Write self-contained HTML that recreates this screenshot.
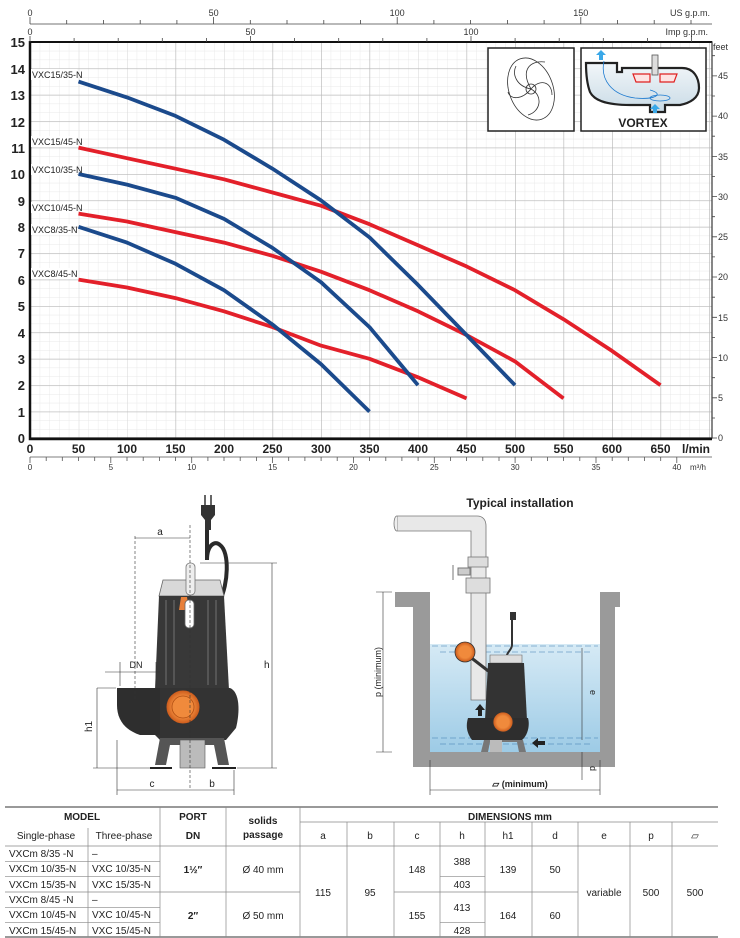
<!DOCTYPE html>
<html><head><meta charset="utf-8"><style>
html,body{margin:0;padding:0;background:#fff;}
svg{display:block;font-family:"Liberation Sans Narrow","Liberation Sans",sans-serif;}
</style></head><body>
<svg width="740" height="938" viewBox="0 0 740 938" xmlns="http://www.w3.org/2000/svg">
<defs>
<pattern id="minor" patternUnits="userSpaceOnUse" x="30" y="42" width="9.7" height="8.8">
<path d="M0 0V8.8M0 0H9.7" stroke="#e2e2e2" stroke-width="0.7" fill="none"/></pattern>
<pattern id="major" patternUnits="userSpaceOnUse" x="30" y="42" width="48.5" height="26.4">
<path d="M0 0V26.4M0 0H48.5" stroke="#b8b8b8" stroke-width="1.3" fill="none"/></pattern>
<linearGradient id="water" x1="0" y1="0" x2="0" y2="1"><stop offset="0" stop-color="#d6eaf5"/><stop offset="1" stop-color="#9dcbe6"/></linearGradient>
<linearGradient id="vort" x1="0" y1="0" x2="0" y2="1"><stop offset="0" stop-color="#f2f6f9"/><stop offset="1" stop-color="#c9dbe6"/></linearGradient>
<radialGradient id="orng"><stop offset="0.6" stop-color="#f08a3c"/><stop offset="1" stop-color="#c9581a"/></radialGradient>
</defs>

<rect x="30" y="42" width="682" height="396" fill="#fff"/>
<rect x="30" y="42" width="682" height="396" fill="url(#minor)"/>
<rect x="30" y="42" width="682" height="396" fill="url(#major)"/>
<path d="M30 42H712V438H30Z" fill="none" stroke="#222" stroke-width="1.2"/>
<path d="M30 41V439H712" fill="none" stroke="#111" stroke-width="2.5"/>
<path d="M30 42H712" stroke="#111" stroke-width="2"/>

<g stroke="#444" stroke-width="0.8">
<path d="M30 24H712"/>
<path d="M30 17V24M66.7 20V24M103.4 20V24M140.2 20V24M176.9 20V24M213.6 17V24M250.3 20V24M287 20V24M323.8 20V24M360.5 20V24M397.2 17V24M433.9 20V24M470.6 20V24M507.4 20V24M544.1 20V24M580.8 17V24M617.5 20V24M654.2 20V24M691 20V24"/>
<path d="M30 36V42M74.1 38V42M118.2 38V42M162.3 38V42M206.4 38V42M250.5 36V42M294.6 38V42M338.7 38V42M382.8 38V42M426.9 38V42M471 36V42M515.1 38V42M559.2 38V42M603.3 38V42M647.4 38V42M691.5 36V42"/>
</g>
<g font-size="9" fill="#333" text-anchor="middle">
<text x="30" y="16">0</text><text x="213.6" y="16">50</text><text x="397.2" y="16">100</text><text x="580.8" y="16">150</text>
<text x="30" y="35">0</text><text x="250.5" y="35">50</text><text x="471" y="35">100</text>
</g>
<text x="710" y="16" font-size="9" fill="#333" text-anchor="end">US g.p.m.</text>
<text x="708" y="35" font-size="9" fill="#333" text-anchor="end">Imp g.p.m.</text>

<g font-size="13" font-weight="bold" fill="#222" text-anchor="end">
<text x="25" y="47">15</text><text x="25" y="74">14</text><text x="25" y="100">13</text><text x="25" y="127">12</text><text x="25" y="153">11</text><text x="25" y="179">10</text><text x="25" y="206">9</text><text x="25" y="232">8</text><text x="25" y="258">7</text><text x="25" y="285">6</text><text x="25" y="311">5</text><text x="25" y="338">4</text><text x="25" y="364">3</text><text x="25" y="390">2</text><text x="25" y="417">1</text><text x="25" y="443">0</text>
</g>

<g stroke="#444" stroke-width="0.8">
<path d="M712 42V438M712 438H717M712 397.8H717M712 357.5H717M712 317.3H717M712 277H717M712 236.8H717M712 196.6H717M712 156.4H717M712 116.1H717M712 75.9H717M712 418H715M712 377.7H715M712 337.4H715M712 297.2H715M712 256.9H715M712 216.7H715M712 176.5H715M712 136.2H715M712 96H715M712 55.7H715"/>
</g>
<g font-size="9" fill="#333">
<text x="713" y="50">feet</text>
<text x="718" y="441">0</text><text x="718" y="401">5</text><text x="718" y="361">10</text><text x="718" y="321">15</text><text x="718" y="280">20</text><text x="718" y="240">25</text><text x="718" y="200">30</text><text x="718" y="160">35</text><text x="718" y="119">40</text><text x="718" y="79">45</text>
</g>

<g font-size="12" font-weight="bold" fill="#222" text-anchor="middle">
<text x="30" y="453">0</text><text x="78.5" y="453">50</text><text x="127" y="453">100</text><text x="175.5" y="453">150</text><text x="224" y="453">200</text><text x="272.5" y="453">250</text><text x="321" y="453">300</text><text x="369.5" y="453">350</text><text x="418" y="453">400</text><text x="466.5" y="453">450</text><text x="515" y="453">500</text><text x="563.5" y="453">550</text><text x="612" y="453">600</text><text x="660.5" y="453">650</text><text x="696" y="453">l/min</text>
</g>
<g stroke="#555" stroke-width="0.8">
<path d="M30 457H712"/>
<path d="M30 457V463M46.2 457V461M62.3 457V461M78.5 457V461M94.7 457V461M110.8 457V463M127 457V461M143.2 457V461M159.4 457V461M175.5 457V461M191.7 457V463M207.9 457V461M224 457V461M240.2 457V461M256.4 457V461M272.6 457V463M288.7 457V461M304.9 457V461M321.1 457V461M337.2 457V461M353.4 457V463M369.6 457V461M385.8 457V461M401.9 457V461M418.1 457V461M434.3 457V463M450.4 457V461M466.6 457V461M482.8 457V461M499 457V461M515.1 457V463M531.3 457V461M547.5 457V461M563.6 457V461M579.8 457V461M596 457V463M612.2 457V461M628.3 457V461M644.5 457V461M660.7 457V461M676.8 457V463"/>
</g>
<g font-size="8" fill="#333" text-anchor="middle">
<text x="30" y="470">0</text><text x="110.8" y="470">5</text><text x="191.7" y="470">10</text><text x="272.6" y="470">15</text><text x="353.4" y="470">20</text><text x="434.3" y="470">25</text><text x="515.1" y="470">30</text><text x="596" y="470">35</text><text x="676.8" y="470">40</text><text x="698" y="470">m³/h</text>
</g>

<g fill="none" stroke-width="3.8" stroke-linejoin="round" stroke-linecap="butt">
<polyline stroke="#e3202a" points="78.5,147.6 127,158.2 175.5,168.7 224,179.3 272.5,192.5 321,205.7 369.5,224.2 418,245.3 466.5,266.4 515,290.2 563.5,319.2 612,350.9 660.5,385.2"/>
<polyline stroke="#e3202a" points="78.5,213.6 127,221.5 175.5,232.1 224,242.6 272.5,255.8 321,271.7 369.5,290.2 418,311.3 466.5,335 515,361.4 563.5,398.4"/>
<polyline stroke="#e3202a" points="78.5,279.6 127,287.5 175.5,298.1 224,311.3 272.5,327.1 321,345.6 369.5,358.8 418,377.3 466.5,398.4"/>
<polyline stroke="#1b4a8c" points="78.5,81.6 127,97.4 175.5,115.9 224,139.7 272.5,168.7 321,200.4 369.5,237.4 418,284.9 466.5,335 515,385.2"/>
<polyline stroke="#1b4a8c" points="78.5,174 127,184.6 175.5,197.8 224,218.9 272.5,247.9 321,282.2 369.5,327.1 418,385.2"/>
<polyline stroke="#1b4a8c" points="78.5,226.8 127,242.6 175.5,263.8 224,290.2 272.5,324.5 321,364.1 369.5,411.6"/>
</g>
<g font-size="9" fill="#222">
<rect x="31" y="69" width="46" height="11" fill="#fff"/><text x="32" y="78">VXC15/35-N</text>
<rect x="31" y="136" width="46" height="11" fill="#fff"/><text x="32" y="145">VXC15/45-N</text>
<rect x="31" y="164" width="46" height="11" fill="#fff"/><text x="32" y="173">VXC10/35-N</text>
<rect x="31" y="202" width="46" height="11" fill="#fff"/><text x="32" y="211">VXC10/45-N</text>
<rect x="31" y="224" width="40" height="11" fill="#fff"/><text x="32" y="233">VXC8/35-N</text>
<rect x="31" y="268" width="40" height="11" fill="#fff"/><text x="32" y="277">VXC8/45-N</text>
</g>

<rect x="488" y="48" width="86" height="83" fill="#fff" stroke="#222" stroke-width="1.5"/>
<g fill="none" stroke="#333" stroke-width="0.8">
<ellipse cx="531" cy="89" rx="22" ry="32" transform="rotate(-20 531 89)"/>
<path d="M531 89C520 70 530 60 545 62M531 89C540 78 552 82 552 95M531 89C544 96 540 112 528 115M531 89C522 100 510 100 508 92M531 89C516 86 512 74 516 66"/>
<circle cx="531" cy="89" r="5"/>
</g>
<rect x="581" y="48" width="125" height="83" fill="#fff" stroke="#222" stroke-width="1.5"/>
<path d="M586 63H617V72H622V68H682C694 68 699 78 699 88C699 98 690 103 680 105H665V112H650V105H630C605 105 594 100 590 92C587 84 586 75 586 63Z" fill="url(#vort)" stroke="#222" stroke-width="2.2"/>
<rect x="652" y="55" width="6" height="20" fill="#ddd" stroke="#555" stroke-width="0.8"/>
<path d="M633 74H650V82H636ZM660 74H677L674 82H660Z" fill="#fde3e3" stroke="#e02020" stroke-width="1.2"/>
<path d="M604 61C600 80 612 95 635 98C655 100 665 94 650 90" fill="none" stroke="#1e7bd0" stroke-width="0.8"/>
<ellipse cx="660" cy="98" rx="10" ry="3" fill="none" stroke="#1e7bd0" stroke-width="0.8"/>
<path d="M601 50L606 55H603V60H599V55H596Z" fill="#3aa8e8"/>
<path d="M655 104L660 109H657V113H653V109H650Z" fill="#3aa8e8"/>
<text x="643" y="127" font-size="12" font-weight="bold" fill="#222" text-anchor="middle" font-family="Liberation Sans,sans-serif">VORTEX</text>

<!-- pump drawing -->
<g>
<path d="M205 495V505M211 495V505" stroke="#333" stroke-width="1.5"/>
<path d="M201 505H215V515L211 520V530H205V520L201 515Z" fill="#333"/>
<path d="M207 530V560C207 545 215 540 220 545C230 552 228 585 220 600C215 610 200 612 190 618" fill="none" stroke="#2a2a2a" stroke-width="4"/>
<path d="M163 580H220L224 596H159Z" fill="#d8d8d8" stroke="#666" stroke-width="0.8"/>
<rect x="186" y="563" width="9" height="32" rx="4" fill="#eee" stroke="#777" stroke-width="0.8"/>
<path d="M159 596H224L229 690H155Z" fill="#383838"/>
<path d="M166 600V685M174 600V685M208 600V685M216 600V685" stroke="#555" stroke-width="2"/>
<path d="M155 688H230C240 692 240 712 236 728L226 740H160L150 730Z" fill="#333"/>
<path d="M117 688H160V735H140C125 730 117 720 117 705Z" fill="#2e2e2e"/>
<circle cx="183" cy="707" r="17" fill="url(#orng)" stroke="#333" stroke-width="1"/>
<circle cx="183" cy="707" r="11" fill="none" stroke="#b35014" stroke-width="0.8"/>
<path d="M181 597L187 597L189 610L179 610Z" fill="#e8803a"/>
<rect x="185" y="600" width="9" height="28" rx="4" fill="#fff" stroke="#666" stroke-width="0.8"/>
<path d="M160 738L155 765H166L170 745H180V768H205V745H214L218 765H229L224 738Z" fill="#555"/>
<rect x="180" y="740" width="25" height="28" fill="#bbb" stroke="#555" stroke-width="0.6"/>
<path d="M150 768H172M212 768H236" stroke="#222" stroke-width="2"/>
</g>
<g stroke="#333" stroke-width="0.6" fill="none">
<path d="M135 536V700M190 525V790" stroke-dasharray="3 2"/>
<path d="M135 538H190M200 563H277M237 768H277M272 563V768M97 688H116M93 768H150M97 688V768M117 740V795M234 770V795M117 790H234M105 672H160M120 662V686M156 662V686"/>
</g>
<g font-size="10" fill="#222" font-family="Liberation Sans,sans-serif">
<text x="160" y="535" text-anchor="middle">a</text>
<text x="264" y="668">h</text>
<text x="92" y="732" transform="rotate(-90 92 732)">h1</text>
<text x="152" y="787" text-anchor="middle">c</text>
<text x="212" y="787" text-anchor="middle">b</text>
<text x="136" y="668" text-anchor="middle" font-size="9">DN</text>
</g>

<!-- installation -->
<text x="520" y="507" font-size="12" font-weight="bold" fill="#222" text-anchor="middle" font-family="Liberation Sans,sans-serif">Typical installation</text>
<rect x="430" y="644" width="170" height="108" fill="url(#water)"/>
<g stroke="#3a7ab0" stroke-width="0.6" stroke-dasharray="6 3" fill="none">
<path d="M432 646H598M440 652H590M432 738H598M440 744H590"/>
</g>
<path d="M395 592H430V752H600V592H620V607H615V767H413V607H395Z" fill="#9a9a9a"/>
<path d="M397 516H477C483 516 486 520 486 526V700H471V531H397Z" fill="#e8e8e8" stroke="#777" stroke-width="0.8"/>
<path d="M397 516C393 516 393 531 397 531" fill="#eee" stroke="#777" stroke-width="0.8"/>
<rect x="468" y="557" width="20" height="10" fill="#ddd" stroke="#777" stroke-width="0.8"/>
<rect x="466" y="578" width="24" height="15" fill="#ddd" stroke="#777" stroke-width="0.8"/>
<path d="M458 568H470V575H458ZM453 565V580" stroke="#777" fill="#ccc" stroke-width="1"/>
<path d="M465 653L500 680" stroke="#333" stroke-width="3"/>
<circle cx="465" cy="652" r="10" fill="url(#orng)" stroke="#333" stroke-width="0.8"/>
<path d="M512 612V645C512 650 506 652 506 660" stroke="#333" stroke-width="2" fill="none"/>
<rect x="510" y="612" width="6" height="8" fill="#333"/>
<path d="M490 655H522V663H490Z" fill="#ddd" stroke="#666" stroke-width="0.6"/>
<path d="M488 663H524L527 720H485Z" fill="#333"/>
<path d="M468 718H528C530 725 528 735 522 740H472C466 732 466 725 468 718Z" fill="#2e2e2e"/>
<circle cx="503" cy="722" r="10" fill="url(#orng)" stroke="#333" stroke-width="0.8"/>
<path d="M484 740L481 752H488L490 742H517L519 752H526L523 740Z" fill="#777"/>
<rect x="490" y="740" width="12" height="12" fill="#bbb"/>
<path d="M475 710L480 704L485 710H482V716H478V710Z" fill="#222"/>
<path d="M532 743L538 738V741H545V745H538V748Z" fill="#222"/>
<g stroke="#333" stroke-width="0.6" fill="none">
<path d="M383 592V752M376 592H392M376 752H392M582 648V740M582 752V780M430 790H600M430 760V795M600 760V795"/>
</g>
<text x="381" y="672" font-size="9" fill="#222" transform="rotate(-90 381 672)" text-anchor="middle" font-family="Liberation Sans,sans-serif">p (minimum)</text>
<text x="590" y="690" font-size="9" fill="#222" transform="rotate(90 590 690)" font-family="Liberation Sans,sans-serif">e</text>
<text x="590" y="766" font-size="9" fill="#222" transform="rotate(90 590 766)" font-family="Liberation Sans,sans-serif">d</text>
<text x="520" y="787" font-size="9" font-weight="bold" fill="#222" text-anchor="middle" font-family="Liberation Sans,sans-serif">▱ (minimum)</text>

<!-- table -->
<g stroke="#888" stroke-width="0.7" fill="none">
<path d="M5 807H718" stroke="#999" stroke-width="2"/>
<path d="M5 937H718" stroke="#999" stroke-width="2"/>
<path d="M300 822H718M5 846H718"/>
<path d="M88 828V937M160 807V937M226 807V937M300 807V937M347 822V937M394 822V937M440 822V937M485 822V937M532 822V937M578 822V937M630 822V937M672 822V937"/>
<path d="M5 861.3H160M5 876.7H160M5 907.3H160M5 922.7H160M5 892H300M394 892H578M440 876.7H485M440 922.7H485"/>
</g>
<g font-size="10" fill="#222" text-anchor="middle">
<text x="82" y="820" font-weight="bold">MODEL</text>
<text x="193" y="820" font-weight="bold">PORT</text>
<text x="263" y="824" font-weight="bold">solids</text>
<text x="510" y="820" font-weight="bold">DIMENSIONS mm</text>
<text x="46" y="839">Single-phase</text><text x="124" y="839">Three-phase</text>
<text x="193" y="839" font-weight="bold">DN</text>
<text x="263" y="838" font-weight="bold">passage</text>
<text x="323" y="839">a</text><text x="370" y="839">b</text><text x="417" y="839">c</text><text x="462" y="839">h</text><text x="508" y="839">h1</text><text x="555" y="839">d</text><text x="604" y="839">e</text><text x="651" y="839">p</text><text x="695" y="839">▱</text>
</g>
<g font-size="10" fill="#222">
<text x="9" y="857">VXCm 8/35  -N</text><text x="92" y="857">–</text>
<text x="9" y="872">VXCm 10/35-N</text><text x="92" y="872">VXC 10/35-N</text>
<text x="9" y="888">VXCm 15/35-N</text><text x="92" y="888">VXC 15/35-N</text>
<text x="9" y="903">VXCm 8/45  -N</text><text x="92" y="903">–</text>
<text x="9" y="918">VXCm 10/45-N</text><text x="92" y="918">VXC 10/45-N</text>
<text x="9" y="934">VXCm 15/45-N</text><text x="92" y="934">VXC 15/45-N</text>
</g>
<g font-size="10" fill="#222" text-anchor="middle">
<text x="193" y="873" font-weight="bold">1½″</text><text x="193" y="919" font-weight="bold">2″</text>
<text x="263" y="873">Ø 40 mm</text><text x="263" y="919">Ø 50 mm</text>
<text x="323" y="896">115</text><text x="370" y="896">95</text>
<text x="417" y="873">148</text><text x="417" y="919">155</text>
<text x="462" y="865">388</text><text x="462" y="888">403</text><text x="462" y="911">413</text><text x="462" y="934">428</text>
<text x="508" y="873">139</text><text x="508" y="919">164</text>
<text x="555" y="873">50</text><text x="555" y="919">60</text>
<text x="604" y="896">variable</text><text x="651" y="896">500</text><text x="695" y="896">500</text>
</g>
</svg>
</body></html>
